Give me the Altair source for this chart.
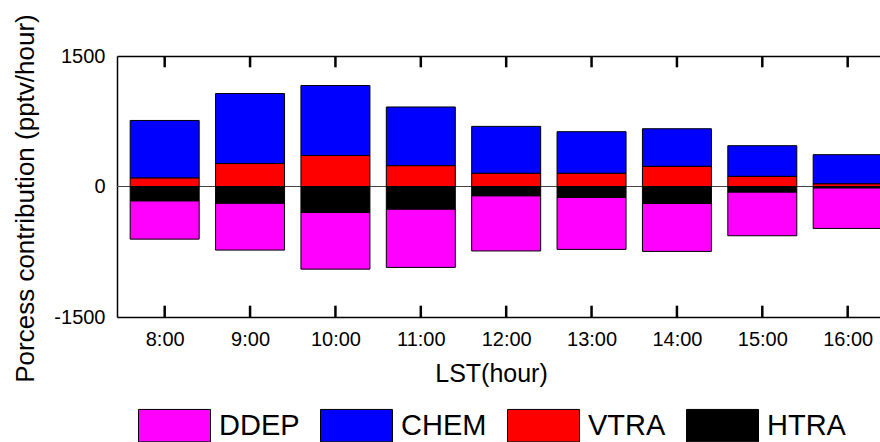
import altair as alt
import pandas as pd

# ---- data ----
hours = [8, 9, 10, 11, 12, 13, 14, 15, 16]
processes = ["DDEP", "CHEM", "VTRA", "HTRA"]
colors = ["#ff00ff", "#0000ff", "#ff0000", "#000000"]
ddep = [-441, -540, -651, -671, -635, -598, -552, -503, -467]
chem = [662, 805, 805, 675, 540, 479, 433, 353, 336]
vtra = [97, 264, 356, 239, 151, 151, 231, 116, 30]
htra = [-164, -191, -299, -259, -106, -125, -194, -63, -15]
stack_rank = {"VTRA": 0, "CHEM": 1, "HTRA": 0, "DDEP": 1}
y_ticks = [-1500, 0, 1500]

rows = []
for name, vals in zip(processes, [ddep, chem, vtra, htra]):
    for h, v in zip(hours, vals):
        rows.append({"hour": h, "process": name, "value": v, "rank": stack_rank[name]})
df = pd.DataFrame(rows)

# inward tick marks on the bottom and top frame edges
TICK_LEN = 130  # tick length in data units (about 11 px)
tick_df = pd.DataFrame(
    [{"hour": h, "edge": e, "inner": e - TICK_LEN * (1 if e > 0 else -1)}
     for h in hours for e in (y_ticks[0], y_ticks[-1])]
)

FONT = "Liberation Sans, Arial, sans-serif"
PLOT_W, PLOT_H = 763, 261
xscale = alt.Scale(domain=[7.5, 16.32], nice=False, zero=False)
yscale = alt.Scale(domain=[-1500, 1500], nice=False, zero=False)

bottom_axis = alt.Axis(
    orient="bottom", values=hours, labelExpr="datum.value + ':00'",
    labelFontSize=20, labelFont=FONT, labelColor="black", labelPadding=12,
    labelFlush=False, ticks=False, domain=True, domainColor="black",
    domainWidth=1.5, grid=False,
    title="LST(hour)", titleFont=FONT, titleFontSize=25, titleFontWeight="normal",
    titleColor="black", titleX=374, titleY=64, titleAlign="center",
    titleBaseline="alphabetic",
)
# top frame line (a bottom-oriented axis moved up onto the top edge)
top_axis = alt.Axis(
    orient="bottom", offset=-PLOT_H, values=hours, labels=False, ticks=False,
    domain=True, domainColor="black", domainWidth=1.5, grid=False, title="",
)
y_axis = alt.Axis(
    values=y_ticks, labelExpr="'' + datum.value", labelFontSize=20, labelFont=FONT,
    labelColor="black", labelPadding=12, labelFlush=False, ticks=False, domain=True,
    domainColor="black", domainWidth=1.5, grid=False,
    title="Porcess contribution (pptv/hour)",
    titleFont=FONT, titleFontSize=26, titleFontWeight="normal", titleColor="black",
    titleAngle=270, titleX=-84, titleY=142, titleAlign="center",
    titleBaseline="alphabetic",
)

rule = alt.Chart(df).mark_rule(color="#444444", strokeWidth=1).encode(
    y=alt.Y(datum=0, scale=yscale, axis=y_axis)
)

bars = alt.Chart(df).mark_bar(size=69, stroke="black", strokeWidth=1, clip=True).encode(
    x=alt.X("hour:Q", scale=xscale, axis=bottom_axis),
    y=alt.Y("value:Q", stack="zero", scale=yscale, axis=y_axis),
    color=alt.Color(
        "process:N",
        scale=alt.Scale(domain=processes, range=colors),
        legend=alt.Legend(
            orient="none", legendX=21, legendY=333, direction="horizontal", columns=4,
            title=None, symbolType="M-1,-0.45H1V0.45H-1Z", symbolSize=5184,
            symbolStrokeColor="black", symbolStrokeWidth=1, symbolOpacity=1,
            labelFont=FONT, labelFontSize=29, labelColor="black", labelOffset=8,
            columnPadding=18, padding=0, labelLimit=300,
        ),
    ),
    order=alt.Order("rank:Q"),
)

ticks = alt.Chart(tick_df).mark_rule(color="black", strokeWidth=2.5).encode(
    x=alt.X("hour:Q", scale=xscale, axis=None),
    y=alt.Y("edge:Q", scale=yscale, axis=y_axis),
    y2="inner:Q",
)

ghost_top = alt.Chart(df).mark_point(opacity=0).encode(
    x=alt.X("hour:Q", scale=xscale, axis=top_axis)
)

chart = (
    alt.layer(rule, bars, ticks, ghost_top)
    .resolve_axis(x="independent")
    .properties(
        width=PLOT_W, height=PLOT_H,
        padding={"left": 117, "top": 56, "right": 0, "bottom": 125},
        autosize=alt.AutoSizeParams(type="none"),
    )
    .configure_view(stroke="transparent")
)

chart.save("out.html", embed_options={"renderer": "svg", "actions": False})
